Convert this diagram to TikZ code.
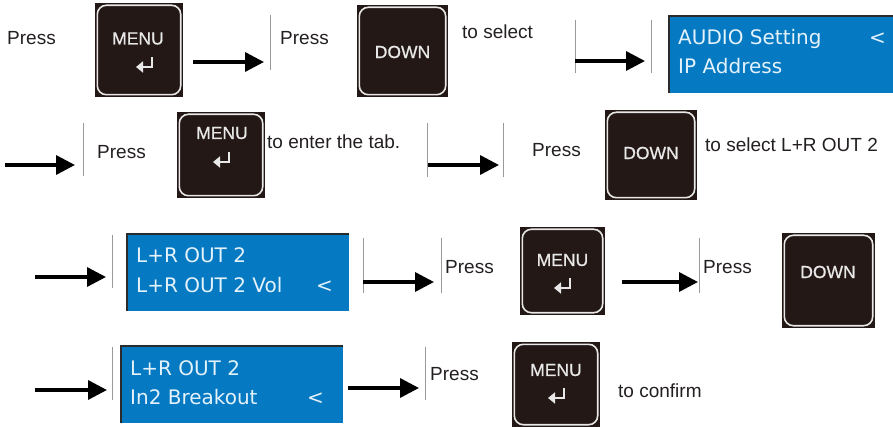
\documentclass[tikz,border=0pt]{standalone}
\usepackage{fontspec}
\setmainfont{Liberation Sans}
\newfontfamily\lcdfont{DejaVu Sans}
\newfontfamily\keyfont[FakeBold=0.8]{Liberation Sans}
\usetikzlibrary{arrows.meta}

\definecolor{ink}{HTML}{231F20}
\definecolor{keydark}{HTML}{231815}
\definecolor{keyrim}{HTML}{E8E8E8}
\definecolor{lcdblue}{HTML}{0579C2}
\definecolor{lcdtext}{HTML}{E4F2FB}
\definecolor{lcdedge}{HTML}{2B2B2B}
\definecolor{divgray}{HTML}{9A9A9A}

% key: dark square with a light rounded rim inside
\newcommand\keyblock[5]{% name, cx, cy, w, h
  \node[keybg, minimum width=#4pt, minimum height=#5pt] (#1) at (#2,#3) {};
  \draw[keyface] ([xshift=2.5pt,yshift=-2.5pt]#1.north west) rectangle ([xshift=-2.5pt,yshift=2.5pt]#1.south east);
}
% return glyph centred at (cx,cy)
\newcommand\enterglyph[2]{%
  \draw[enter] ({#1+7},{#2-8}) -- ({#1+7},{#2+2}) -- ({#1-9},{#2+2});
}
% blue display panel with a dark top/left edge
\newcommand\lcdpanel[5]{% name, x1, y1, w, h
  \node[lcd, anchor=north west, minimum width=#4pt, minimum height=#5pt] (#1) at (#2,#3) {};
  \draw[lcdedge, line width=1.8pt] (#1.south west) -- (#1.north west) -- (#1.north east);
}

\begin{document}
\begin{tikzpicture}[x=1pt,y=-1pt,
  caption/.style={anchor=base west, inner sep=0pt, text=ink, font=\fontsize{19}{22}\selectfont},
  keybg/.style={fill=keydark, draw=none, inner sep=0pt},
  keyface/.style={draw=keyrim, line width=1.6pt, rounded corners=9pt, fill=keydark},
  keylabel/.style={text=keyrim, font=\keyfont\fontsize{17.5}{20}\selectfont, inner sep=0pt},
  enter/.style={draw=keyrim, line width=2.8pt, -{Triangle[length=7pt,width=11pt]}},
  lcd/.style={fill=lcdblue, draw=none, inner sep=0pt},
  lcdline/.style={anchor=base west, inner sep=0pt, text=lcdtext, font=\lcdfont\fontsize{20}{24}\selectfont},
  flow/.style={draw=black, line width=3.4pt, -{Triangle[length=19pt,width=19pt]}},
  divider/.style={draw=divgray, line width=0.9pt},
]
\useasboundingbox (0,0) rectangle (893,427);

% ---------------- row 1 ----------------
\node[caption] (r1press) at (7,45) {Press};
\keyblock{k1}{139}{50}{88}{94}
\node[keylabel] (k1t) at (138,38.5) {MENU};
\enterglyph{145}{65}
\coordinate (a1s) at (193,62); \coordinate (a1e) at (264,62);
\draw[flow] (a1s) -- (a1e);
\coordinate (b1t) at (270,15); \coordinate (b1b) at (270,70);
\draw[divider] (b1t) -- (b1b);
\node[caption] (r1press2) at (280,45) {Press};
\keyblock{k2}{402.5}{51}{91}{92}
\node[keylabel] (k2t) at (402.5,52) {DOWN};
\node[caption] (r1sel) at (462,39) {to select};
\coordinate (b2t) at (575,20); \coordinate (b2b) at (575,73);
\draw[divider] (b2t) -- (b2b);
\coordinate (a2s) at (575,61); \coordinate (a2e) at (645,61);
\draw[flow] (a2s) -- (a2e);
\coordinate (b3t) at (651,20); \coordinate (b3b) at (651,73);
\draw[divider] (b3t) -- (b3b);
\lcdpanel{lcd1}{669}{16}{224}{77}
\node[lcdline] (lcd1a) at (678,45) {AUDIO Setting};
\node[lcdline] (lcd1c) at (869,45) {<};
\node[lcdline] (lcd1b) at (678,74) {IP Address};

% ---------------- row 2 ----------------
\coordinate (a3s) at (5,165); \coordinate (a3e) at (75,165);
\draw[flow] (a3s) -- (a3e);
\coordinate (b4t) at (83,123); \coordinate (b4b) at (83,176);
\draw[divider] (b4t) -- (b4b);
\node[caption] (r2press) at (97,159) {Press};
\keyblock{k3}{221}{155}{88}{86}
\node[keylabel] (k3t) at (222,133) {MENU};
\enterglyph{222}{160}
\node[caption] (r2tab) at (267,149) {to enter the tab.};
\coordinate (b5t) at (427,123); \coordinate (b5b) at (427,177);
\draw[divider] (b5t) -- (b5b);
\coordinate (a4s) at (428,165); \coordinate (a4e) at (499,165);
\draw[flow] (a4s) -- (a4e);
\coordinate (b6t) at (503,123); \coordinate (b6b) at (503,177);
\draw[divider] (b6t) -- (b6b);
\node[caption] (r2press2) at (532,157) {Press};
\keyblock{k4}{651}{155}{92}{90}
\node[keylabel] (k4t) at (651,153) {DOWN};
\node[caption] (r2sel) at (705,152) {to select L+R OUT 2};

% ---------------- row 3 ----------------
\coordinate (a5s) at (35,277); \coordinate (a5e) at (106,277);
\draw[flow] (a5s) -- (a5e);
\coordinate (b7t) at (112,235); \coordinate (b7b) at (112,288);
\draw[divider] (b7t) -- (b7b);
\lcdpanel{lcd2}{127}{234}{222}{77}
\node[lcdline] (lcd2a) at (136,263) {L+R OUT 2};
\node[lcdline] (lcd2b) at (136,293) {L+R OUT 2 Vol};
\node[lcdline] (lcd2c) at (316,293) {<};
\coordinate (b8t) at (363,238); \coordinate (b8b) at (363,293);
\draw[divider] (b8t) -- (b8b);
\coordinate (a6s) at (363,282); \coordinate (a6e) at (434,282);
\draw[flow] (a6s) -- (a6e);
\coordinate (b9t) at (441,238); \coordinate (b9b) at (441,293);
\draw[divider] (b9t) -- (b9b);
\node[caption] (r3press) at (445,274) {Press};
\keyblock{k5}{562.5}{271}{85}{88}
\node[keylabel] (k5t) at (562.5,260) {MENU};
\enterglyph{563}{286}
\coordinate (a7s) at (622,282); \coordinate (a7e) at (698,282);
\draw[flow] (a7s) -- (a7e);
\coordinate (b10t) at (699,238); \coordinate (b10b) at (699,293);
\draw[divider] (b10t) -- (b10b);
\node[caption] (r3press2) at (703,274) {Press};
\keyblock{k6}{828.5}{280.5}{93}{95}
\node[keylabel] (k6t) at (828,272) {DOWN};

% ---------------- row 4 ----------------
\coordinate (a8s) at (35,390); \coordinate (a8e) at (107,390);
\draw[flow] (a8s) -- (a8e);
\coordinate (b11t) at (112,347); \coordinate (b11b) at (112,400);
\draw[divider] (b11t) -- (b11b);
\lcdpanel{lcd3}{121}{346}{222}{77}
\node[lcdline] (lcd3a) at (130,375) {L+R OUT 2};
\node[lcdline] (lcd3b) at (130,404) {In2 Breakout};
\node[lcdline] (lcd3c) at (307,404) {<};
\coordinate (a9s) at (348,388); \coordinate (a9e) at (419,388);
\draw[flow] (a9s) -- (a9e);
\coordinate (b12t) at (425,347); \coordinate (b12b) at (425,400);
\draw[divider] (b12t) -- (b12b);
\node[caption] (r4press) at (430,380) {Press};
\keyblock{k7}{556}{384.5}{88}{85}
\node[keylabel] (k7t) at (556,370) {MENU};
\enterglyph{557}{396}
\node[caption] (r4conf) at (618,397) {to confirm};
\end{tikzpicture}
\end{document}
